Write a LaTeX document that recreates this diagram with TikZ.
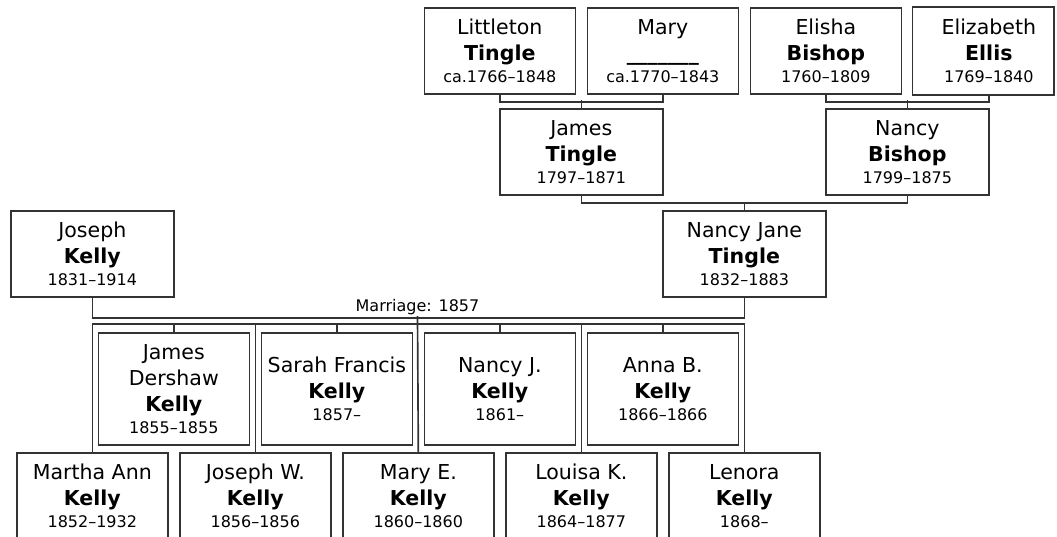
\documentclass[tikz,border=0pt]{standalone}
\usepackage{fontspec}
\setmainfont{DejaVu Sans}
\definecolor{linec}{HTML}{333333}
\newcommand\namefont{\fontsize{15.4pt}{19.5pt}\selectfont}
\newcommand\datefont{\fontsize{12pt}{14pt}\selectfont}
\newcommand\dline[1]{\\[-3.3pt]{\datefont #1}}
\begin{document}
\begin{tikzpicture}[x=0.75pt,y=-0.75pt,
  conn/.style={draw=linec, line width=1.25pt},
  pbox/.style={draw=linec, line width=1.25pt, fill=white, inner sep=0pt, align=center,
    font=\namefont, anchor=north west, minimum width=113.25pt, minimum height=64.5pt},
  widebox/.style={pbox, minimum width=122.25pt},
  innerbox/.style={pbox, minimum height=84pt},
  mtext/.style={font=\datefont, inner sep=0pt, anchor=base}]
\fill[white] (0,0) rectangle (1057,536);
\useasboundingbox (0,0) rectangle (1057,536);

% great-grandparents
\node[pbox] (lt) at (423.5,7) {Littleton\\\textbf{Tingle}\dline{ca.1766–1848}};
\node[pbox] (mary) at (586.5,7) {Mary\\\textbf{\_\_\_\_\_\_\_}\dline{ca.1770–1843}};
\node[pbox] (elisha) at (749.5,7) {Elisha\\\textbf{Bishop}\dline{1760–1809}};
\node[pbox, draw=none] (eliz) at (912.5,7) {Elizabeth\\\textbf{Ellis}\dline{1769–1840}};
\draw[conn] (eliz.north west) rectangle ([xshift=-8.6pt]eliz.south east);
% grandparents
\node[widebox] (james) at (499,108) {James\\\textbf{Tingle}\dline{1797–1871}};
\node[widebox] (nancyb) at (825,108) {Nancy\\\textbf{Bishop}\dline{1799–1875}};
% parents
\node[widebox] (nancyj) at (662,210) {Nancy Jane\\\textbf{Tingle}\dline{1832–1883}};
\node[widebox] (joseph) at (10,210) {Joseph\\\textbf{Kelly}\dline{1831–1914}};

% connectors between generations
\draw[conn] (lt.south) -- ++(0,7) -| (mary.south);
\draw[conn] (james.north) -- ++(0,-8);
\draw[conn] (elisha.south) -- ++(0,7) -| (eliz.south);
\draw[conn] (nancyb.north) -- ++(0,-8);
\draw[conn] (james.south) -- ++(0,7.5) -| (nancyb.south);
\draw[conn] (nancyj.north) -- ++(0,-8.5);
\draw[conn] (joseph.south) -- ++(0,20) -| (nancyj.south);
\coordinate (fam) at (417.5,316);
\node[mtext] (mlabel) at (417.5,311.5) {Marriage: 1857};

% children, lower row
\node[pbox] (martha) at (16,452) {Martha Ann\\\textbf{Kelly}\dline{1852–1932}};
\node[pbox] (josephw) at (179,452) {Joseph W.\\\textbf{Kelly}\dline{1856–1856}};
\node[pbox] (marye) at (342,452) {Mary E.\\\textbf{Kelly}\dline{1860–1860}};
\node[pbox] (louisa) at (505,452) {Louisa K.\\\textbf{Kelly}\dline{1864–1877}};
\node[pbox] (lenora) at (668,452) {Lenora\\\textbf{Kelly}\dline{1868–}};
% children, upper row
\node[innerbox] (jamesd) at (97.5,332) {James\\Dershaw\\\textbf{Kelly}\dline{1855–1855}};
\node[innerbox] (sarah) at (260.5,332) {Sarah Francis\\\textbf{Kelly}\dline{1857–}};
\node[innerbox] (nancyk) at (423.5,332) {Nancy J.\\\textbf{Kelly}\dline{1861–}};
\node[innerbox] (anna) at (586.5,332) {Anna B.\\\textbf{Kelly}\dline{1866–1866}};

% children's connectors
\draw[conn] (martha.north) -- ++(0,-128) -| (lenora.north);
\draw[conn] (josephw.north) -- ++(0,-128);
\draw[conn] (marye.north) -- (fam);
\draw[conn] (louisa.north) -- ++(0,-128);
\draw[conn] (jamesd.north) -- ++(0,-8);
\draw[conn] (sarah.north) -- ++(0,-8);
\draw[conn] (nancyk.north) -- ++(0,-8);
\draw[conn] (anna.north) -- ++(0,-8);
\end{tikzpicture}
\end{document}
